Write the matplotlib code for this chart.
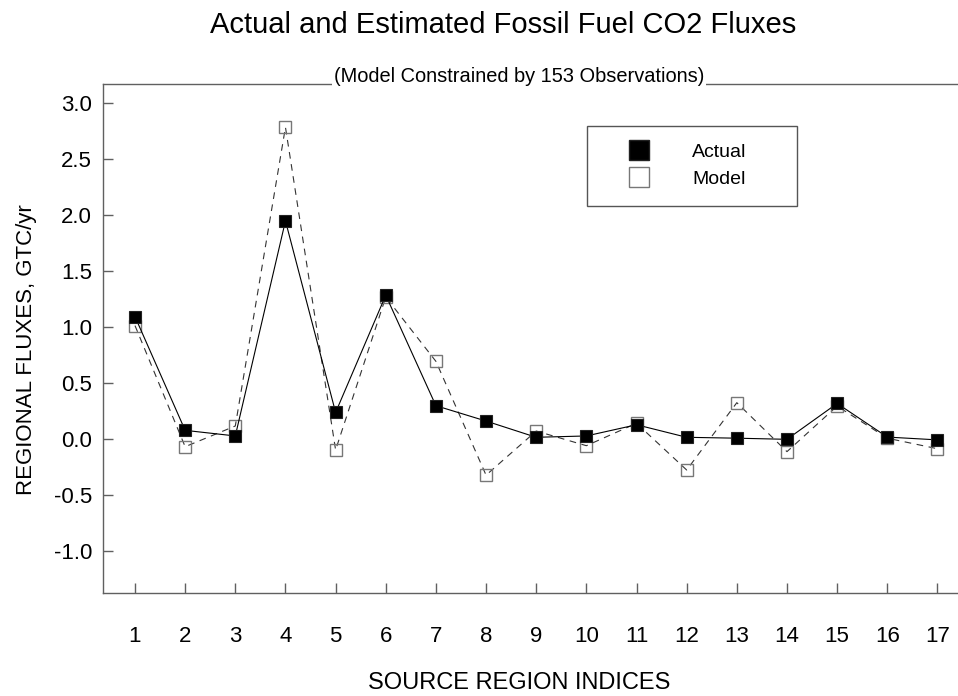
import numpy as np
import matplotlib
matplotlib.use("Agg")
import matplotlib.pyplot as plt
from matplotlib.lines import Line2D
from matplotlib.patches import Rectangle

plt.rcParams["font.family"] = ["Liberation Sans", "DejaVu Sans"]
plt.rcParams["axes.unicode_minus"] = False

# 数据：源区编号与通量 (GTC/yr)
regions = np.arange(1, 18)
actual = [1.095, 0.08, 0.03, 1.95, 0.24, 1.286, 0.30, 0.163, 0.018,
          0.03, 0.13, 0.018, 0.01, 0.0, 0.32, 0.02, -0.005]
model = [1.015, -0.066, 0.119, 2.786, -0.095, 1.27, 0.696, -0.32, 0.074,
         -0.057, 0.143, -0.274, 0.327, -0.11, 0.297, 0.01, -0.084]
yticks = [-1.0, -0.5, 0.0, 0.5, 1.0, 1.5, 2.0, 2.5, 3.0]

W, H = 958, 696
fig = plt.figure(figsize=(W / 100, H / 100), dpi=100)

# 坐标区 (像素): 左 103, 上 84, 下 593, 右到图边
ax = fig.add_axes([103 / W, (H - 593) / H, (W - 103) / W, (593 - 84) / H])

grey = "#606060"

ax.plot(regions, model, color="#333333", lw=0.8, ls=(0, (6, 5)),
        marker="s", ms=8, mfc="none", mec="#777777", mew=1.0, zorder=2)
ax.plot(regions, actual, color="black", lw=0.8, ls="-",
        marker="s", ms=8, mfc="black", mec="#222222", mew=0.8, zorder=3)

ax.set_xlim(0.362, 17.41)
ax.set_ylim(-1.372, 3.172)
ax.set_xticks(regions)
ax.set_yticks(yticks)
ax.set_yticklabels([f"{v:.1f}" for v in yticks])

ax.tick_params(axis="both", direction="in", length=7, width=1.0, color=grey,
               labelsize=16)
ax.tick_params(axis="x", pad=24)
ax.tick_params(axis="y", pad=8)

for side in ["left", "bottom", "top"]:
    ax.spines[side].set_color(grey)
    ax.spines[side].set_linewidth(1.0)
ax.spines["right"].set_visible(False)

ax.set_xlabel("SOURCE REGION INDICES", fontsize=17)
ax.xaxis.set_label_coords((519 - 103) / 855, (593 - 672) / 509)
ax.set_ylabel("REGIONAL FLUXES, GTC/yr", fontsize=16, va="center")
ax.yaxis.set_label_coords((27 - 103) / 855, (593 - 350) / 509)

# 图例框
ax.add_patch(Rectangle((0.566, 0.7603), 0.2457, 0.1572, transform=ax.transAxes,
                       facecolor="white", edgecolor="#555555", lw=1.0, zorder=4))
handles = [
    Line2D([], [], ls="none", marker="s", ms=14, mfc="black", mec="#222222"),
    Line2D([], [], ls="none", marker="s", ms=14, mfc="white", mec="#777777"),
]
leg = ax.legend(handles, ["Actual", "Model"], loc="upper left",
                bbox_to_anchor=((619.6 - 103) / 855, (593 - 143.5) / 509),
                borderpad=0, borderaxespad=0, frameon=False, fontsize=14,
                handlelength=2, handletextpad=1.72, labelspacing=0.48)
leg.set_zorder(5)

fig.text(503 / W, 1 - 25 / H, "Actual and Estimated Fossil Fuel CO2 Fluxes",
         fontsize=21, ha="center", va="center")
fig.text(519 / W, 1 - 76 / H, "(Model Constrained by 153 Observations)",
         fontsize=14.4, ha="center", va="center",
         bbox=dict(facecolor="white", edgecolor="none", pad=1.5))

fig.savefig("out.png", dpi=100)
